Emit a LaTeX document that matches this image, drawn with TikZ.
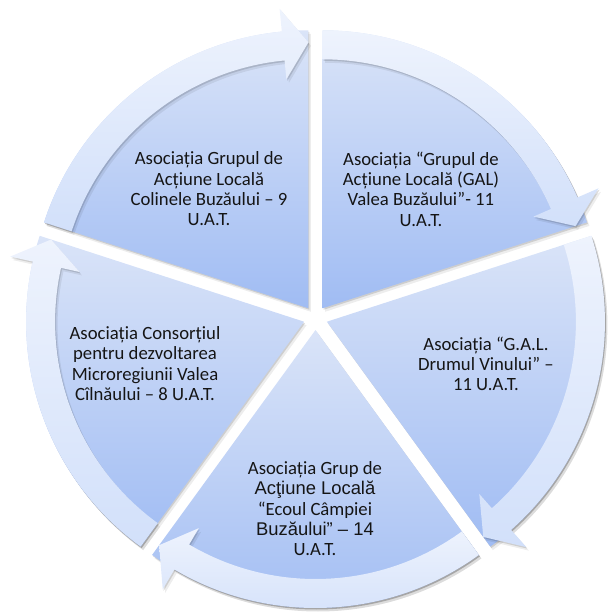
\documentclass[tikz,border=0pt]{standalone}
\usepackage{fontspec}
\setmainfont{Carlito}
\newfontfamily\arialf{Liberation Sans}
\definecolor{secTop}{HTML}{DAE4F8}
\definecolor{secBot}{HTML}{A0BCF3}
\definecolor{bandTop}{HTML}{EEF3FD}
\definecolor{bandBot}{HTML}{D2E0FA}
\definecolor{txtcol}{HTML}{151515}
\begin{document}
\begin{tikzpicture}[x=1pt,y=1pt]
\useasboundingbox (-315.5,-298) rectangle (293.5,318);
\tikzset{
  txt/.style={align=center, text=txtcol, font=\fontsize{18.7}{20.3}\selectfont},
  shadowA/.style={fill=black, opacity=.13},
  shadowB/.style={fill=black, opacity=.07}
}
% sectors
\foreach \t in {126,54,-18,-90,198}{
  \pgfmathsetmacro\as{\t+36}
  \pgfmathsetmacro\ae{\t-36}
  \begin{scope}[shift={(\t:12)}]
    \begin{scope}[shift={(2.5,-3.5)}]
      \fill[shadowB] (0,0) -- (\as:278) arc[start angle=\as,end angle=\ae,radius=278] -- cycle;
    \end{scope}
    \begin{scope}[shift={(1,-1.5)}]
      \fill[shadowA] (0,0) -- (\as:278) arc[start angle=\as,end angle=\ae,radius=278] -- cycle;
    \end{scope}
    \shade[top color=secTop,bottom color=secBot] (0,0) -- (\as:278) arc[start angle=\as,end angle=\ae,radius=278] -- cycle;
  \end{scope}
}
% arrow bands
\foreach \t in {126,54,-18,-90,198}{
  \pgfmathsetmacro\as{\t+36}
  \pgfmathsetmacro\ae{\t-36}
  \pgfmathsetmacro\ah{\t-30.5}
  \begin{scope}[shift={(\t:12)}]
    \begin{scope}[shift={(2.5,-3.5)}]
      \fill[shadowB] (\as:278) arc[start angle=\as,end angle=\ah,radius=278] -- (\ah:301) -- (\ae:266) -- (\ah:230) -- (\ah:249) arc[start angle=\ah,end angle=\as,radius=249] -- cycle;
    \end{scope}
    \begin{scope}[shift={(1,-1.5)}]
      \fill[shadowA] (\as:278) arc[start angle=\as,end angle=\ah,radius=278] -- (\ah:301) -- (\ae:266) -- (\ah:230) -- (\ah:249) arc[start angle=\ah,end angle=\as,radius=249] -- cycle;
    \end{scope}
    \shade[top color=bandTop,bottom color=bandBot] (\as:278) arc[start angle=\as,end angle=\ah,radius=278] -- (\ah:301) -- (\ae:266) -- (\ah:230) -- (\ah:249) arc[start angle=\ah,end angle=\as,radius=249] -- cycle;
  \end{scope}
}
% texts
\node[txt] (tl) at (-106.5,129) {Asociația Grupul de\\Acțiune Locală\\Colinele Buzăului – 9\\U.A.T.};
\node[txt] (tr) at (105.5,129) {Asociația “Grupul de\\Acțiune Locală (GAL)\\Valea Buzăului”- 11\\U.A.T.};
\node[txt] (rt) at (170.5,-46) {Asociația “G.A.L.\\Drumul Vinului” –\\11 U.A.T.};
\node[txt] (lt) at (-170.5,-45.5) {Asociația Consorțiul\\pentru dezvoltarea\\Microregiunii Valea\\Cîlnăului – 8 U.A.T.};
\node[txt] (bt) at (-0.5,-190.7) {Asociația Grup de\\{\arialf\fontsize{18.4}{20.3}\selectfont Acţiune Locală}\\“Ecoul Câmpiei\\{\arialf\fontsize{18.4}{20.3}\selectfont Buzăului” – 14}\\U.A.T.};
\end{tikzpicture}
\end{document}
